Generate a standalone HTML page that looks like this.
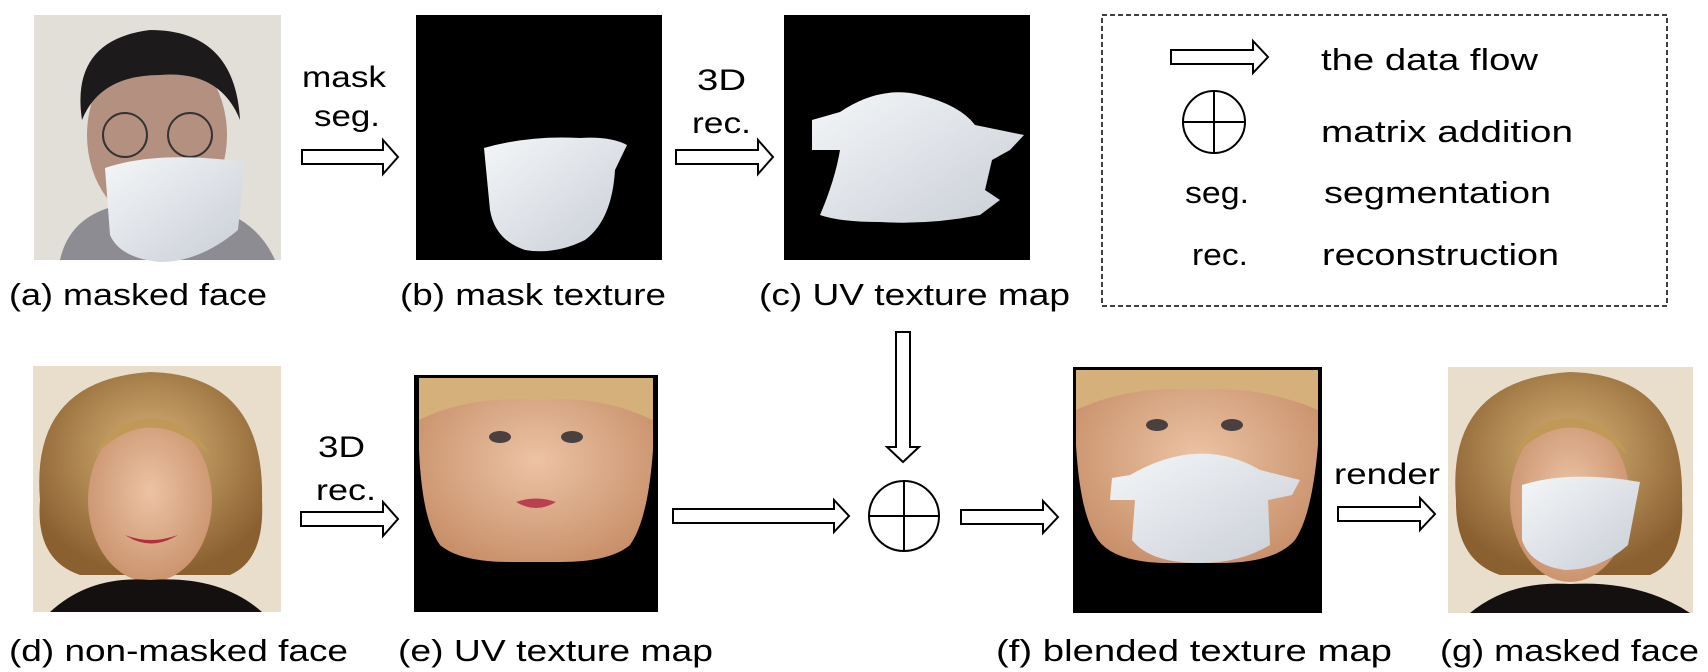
<!DOCTYPE html>
<html><head><meta charset="utf-8"><style>
html,body{margin:0;padding:0;background:#fff}
svg{display:block}
text{font-family:"Liberation Sans",sans-serif;fill:#000}
</style></head><body>
<svg width="1708" height="672" viewBox="0 0 1708 672" xmlns="http://www.w3.org/2000/svg">
<defs>
<radialGradient id="skin" cx="50%" cy="45%" r="60%"><stop offset="0" stop-color="#ecc3a4"/><stop offset="1" stop-color="#c8906a"/></radialGradient>
<radialGradient id="hair" cx="50%" cy="40%" r="60%"><stop offset="0" stop-color="#d8b478"/><stop offset="1" stop-color="#8a6030"/></radialGradient>
<linearGradient id="maskg" x1="0" y1="0" x2="1" y2="1"><stop offset="0" stop-color="#f4f6f8"/><stop offset="1" stop-color="#c9ced6"/></linearGradient>
</defs>

<!-- (a) masked face photo -->
<g>
<rect x="34" y="15" width="247" height="245" fill="#e2dfd8"/>
<path d="M60 260 Q70 215 120 205 L200 205 Q255 215 275 260 Z" fill="#8e8c93"/>
<ellipse cx="157" cy="135" rx="70" ry="90" fill="#b49080"/>
<path d="M82 120 Q70 40 150 30 Q235 30 240 120 Q220 70 160 75 Q100 75 82 120 Z" fill="#1c1a1a"/>
<circle cx="125" cy="135" r="22" fill="none" stroke="#333" stroke-width="2"/>
<circle cx="190" cy="135" r="22" fill="none" stroke="#333" stroke-width="2"/>
<path d="M105 168 Q157 150 245 162 L238 230 Q200 262 160 262 Q120 258 110 235 Z" fill="url(#maskg)"/>
</g>
<text x="9" y="305" font-size="31" textLength="258" lengthAdjust="spacingAndGlyphs">(a) masked face</text>

<!-- arrow mask seg -->
<text x="302" y="87" font-size="30" textLength="84" lengthAdjust="spacingAndGlyphs">mask</text>
<text x="314" y="126" font-size="30" textLength="66" lengthAdjust="spacingAndGlyphs">seg.</text>
<path d="M302 150 L383 150 L383 140 L398 157 L383 174 L383 164 L302 164 Z" fill="#fff" stroke="#000" stroke-width="2"/>

<!-- (b) mask texture -->
<g>
<rect x="416" y="15" width="246" height="245" fill="#000"/>
<path d="M484 148 Q530 135 580 138 Q610 136 627 145 L615 170 Q612 220 585 240 Q555 255 525 250 Q495 240 490 210 Z" fill="url(#maskg)"/>
</g>
<text x="400" y="305" font-size="31" textLength="266" lengthAdjust="spacingAndGlyphs">(b) mask texture</text>

<!-- arrow 3D rec top -->
<text x="697" y="90" font-size="30" textLength="49" lengthAdjust="spacingAndGlyphs">3D</text>
<text x="692" y="133" font-size="30" textLength="59" lengthAdjust="spacingAndGlyphs">rec.</text>
<path d="M676 150 L758 150 L758 140 L773 157 L758 174 L758 164 L676 164 Z" fill="#fff" stroke="#000" stroke-width="2"/>

<!-- (c) UV texture map -->
<g>
<rect x="784" y="15" width="246" height="245" fill="#000"/>
<path d="M812 120 L840 112 Q880 85 920 95 Q960 105 975 125 L1024 135 L1010 150 L992 160 L985 190 L1000 200 L980 215 Q930 225 880 222 Q840 222 820 215 Q835 180 840 150 L812 150 Z" fill="url(#maskg)"/>
</g>
<text x="759" y="305" font-size="31" textLength="311" lengthAdjust="spacingAndGlyphs">(c) UV texture map</text>

<!-- legend -->
<g>
<rect x="1102" y="15" width="565" height="291" fill="none" stroke="#000" stroke-width="1.5" stroke-dasharray="5,3"/>
<path d="M1171 50 L1253 50 L1253 41 L1268 57 L1253 73 L1253 64 L1171 64 Z" fill="#fff" stroke="#000" stroke-width="2"/>
<text x="1321" y="70" font-size="31" textLength="217" lengthAdjust="spacingAndGlyphs">the data flow</text>
<g>
<circle cx="1214" cy="122" r="31" fill="none" stroke="#000" stroke-width="2"/>
<line x1="1214" y1="91" x2="1214" y2="153" stroke="#000" stroke-width="2"/>
<line x1="1183" y1="122" x2="1245" y2="122" stroke="#000" stroke-width="2"/>
</g>
<text x="1321" y="142" font-size="31" textLength="252" lengthAdjust="spacingAndGlyphs">matrix addition</text>
<text x="1185" y="203" font-size="31" textLength="64" lengthAdjust="spacingAndGlyphs">seg.</text>
<text x="1324" y="203" font-size="31" textLength="227" lengthAdjust="spacingAndGlyphs">segmentation</text>
<text x="1192" y="265" font-size="31" textLength="56" lengthAdjust="spacingAndGlyphs">rec.</text>
<text x="1322" y="265" font-size="31" textLength="237" lengthAdjust="spacingAndGlyphs">reconstruction</text>
</g>

<!-- down arrow -->
<path d="M896 332 L910 332 L910 447 L919 447 L903 462 L887 447 L896 447 Z" fill="#fff" stroke="#000" stroke-width="2"/>

<!-- (d) non-masked face -->
<g>
<rect x="33" y="366" width="248" height="246" fill="#e9ddcc"/>
<path d="M200 612 Q150 570 110 590 L60 612 Z" fill="#1a1410"/>
<path d="M40 500 Q30 380 150 372 Q265 375 262 500 Q265 560 230 575 L80 575 Q35 560 40 500 Z" fill="url(#hair)"/>
<ellipse cx="150" cy="500" rx="62" ry="82" fill="url(#skin)"/>
<path d="M95 455 Q150 400 210 455 Q190 420 150 418 Q110 420 95 455 Z" fill="#c09858"/>
<path d="M125 535 Q150 552 178 535 Q150 545 125 535 Z" fill="#b03040"/>
<path d="M50 612 Q90 575 150 580 Q220 575 262 612 Z" fill="#151010"/>
</g>
<text x="9" y="661" font-size="31" textLength="339" lengthAdjust="spacingAndGlyphs">(d) non-masked face</text>

<text x="318" y="457" font-size="30" textLength="47" lengthAdjust="spacingAndGlyphs">3D</text>
<text x="316" y="500" font-size="30" textLength="60" lengthAdjust="spacingAndGlyphs">rec.</text>
<path d="M301 512 L383 512 L383 502 L398 519 L383 536 L383 526 L301 526 Z" fill="#fff" stroke="#000" stroke-width="2"/>

<!-- (e) UV texture map -->
<g>
<rect x="414" y="375" width="244" height="237" fill="#000"/>
<path d="M419 378 L653 378 L653 450 Q648 520 630 545 Q610 562 560 562 L510 562 Q460 562 440 545 Q422 520 419 450 Z" fill="url(#skin)"/>
<path d="M419 378 L653 378 L653 420 Q600 395 540 400 Q470 395 419 420 Z" fill="#d6b07a"/>
<ellipse cx="500" cy="437" rx="11" ry="6" fill="#4a4040"/>
<ellipse cx="572" cy="437" rx="11" ry="6" fill="#4a4040"/>
<path d="M516 502 Q536 495 556 502 Q536 514 516 502 Z" fill="#b84050"/>
</g>
<text x="398" y="661" font-size="31" textLength="315" lengthAdjust="spacingAndGlyphs">(e) UV texture map</text>

<path d="M673 509 L834 509 L834 500 L849 516 L834 532 L834 523 L673 523 Z" fill="#fff" stroke="#000" stroke-width="2"/>

<g>
<circle cx="904" cy="516" r="35" fill="#fff" stroke="#000" stroke-width="2"/>
<line x1="904" y1="481" x2="904" y2="551" stroke="#000" stroke-width="2"/>
<line x1="869" y1="516" x2="939" y2="516" stroke="#000" stroke-width="2"/>
</g>

<path d="M961 510 L1043 510 L1043 501 L1058 517 L1043 533 L1043 524 L961 524 Z" fill="#fff" stroke="#000" stroke-width="2"/>

<!-- (f) blended texture map -->
<g>
<rect x="1073" y="367" width="249" height="246" fill="#000"/>
<path d="M1076 370 L1318 370 L1318 445 Q1312 515 1295 540 Q1275 563 1220 563 L1170 563 Q1115 563 1098 540 Q1080 515 1076 445 Z" fill="url(#skin)"/>
<path d="M1076 370 L1318 370 L1318 410 Q1260 385 1195 390 Q1130 385 1076 410 Z" fill="#d6b07a"/>
<ellipse cx="1157" cy="425" rx="11" ry="6" fill="#4a4040"/>
<ellipse cx="1232" cy="425" rx="11" ry="6" fill="#4a4040"/>
<path d="M1130 475 Q1200 435 1260 470 L1300 480 L1292 495 L1268 500 L1270 545 Q1240 563 1200 563 Q1150 563 1132 540 L1135 500 L1110 500 L1112 478 Z" fill="url(#maskg)"/>
</g>
<text x="996" y="661" font-size="31" textLength="396" lengthAdjust="spacingAndGlyphs">(f) blended texture map</text>

<text x="1334" y="484" font-size="30" textLength="106" lengthAdjust="spacingAndGlyphs">render</text>
<path d="M1338 507 L1420 507 L1420 498 L1435 514 L1420 530 L1420 521 L1338 521 Z" fill="#fff" stroke="#000" stroke-width="2"/>

<!-- (g) masked face -->
<g>
<rect x="1448" y="367" width="245" height="246" fill="#e9ddcc"/>
<path d="M1456 500 Q1446 380 1570 372 Q1685 375 1682 500 Q1685 560 1650 575 L1500 575 Q1455 560 1456 500 Z" fill="url(#hair)"/>
<ellipse cx="1570" cy="500" rx="60" ry="82" fill="url(#skin)"/>
<path d="M1515 455 Q1570 400 1628 455 Q1610 420 1570 418 Q1530 420 1515 455 Z" fill="#c09858"/>
<path d="M1522 485 Q1570 470 1640 482 L1628 545 Q1600 570 1565 570 Q1530 565 1522 540 Z" fill="url(#maskg)"/>
<path d="M1470 613 Q1510 580 1570 584 Q1640 580 1690 613 Z" fill="#151010"/>
</g>
<text x="1440" y="661" font-size="31" textLength="259" lengthAdjust="spacingAndGlyphs">(g) masked face</text>
</svg>
</body></html>
